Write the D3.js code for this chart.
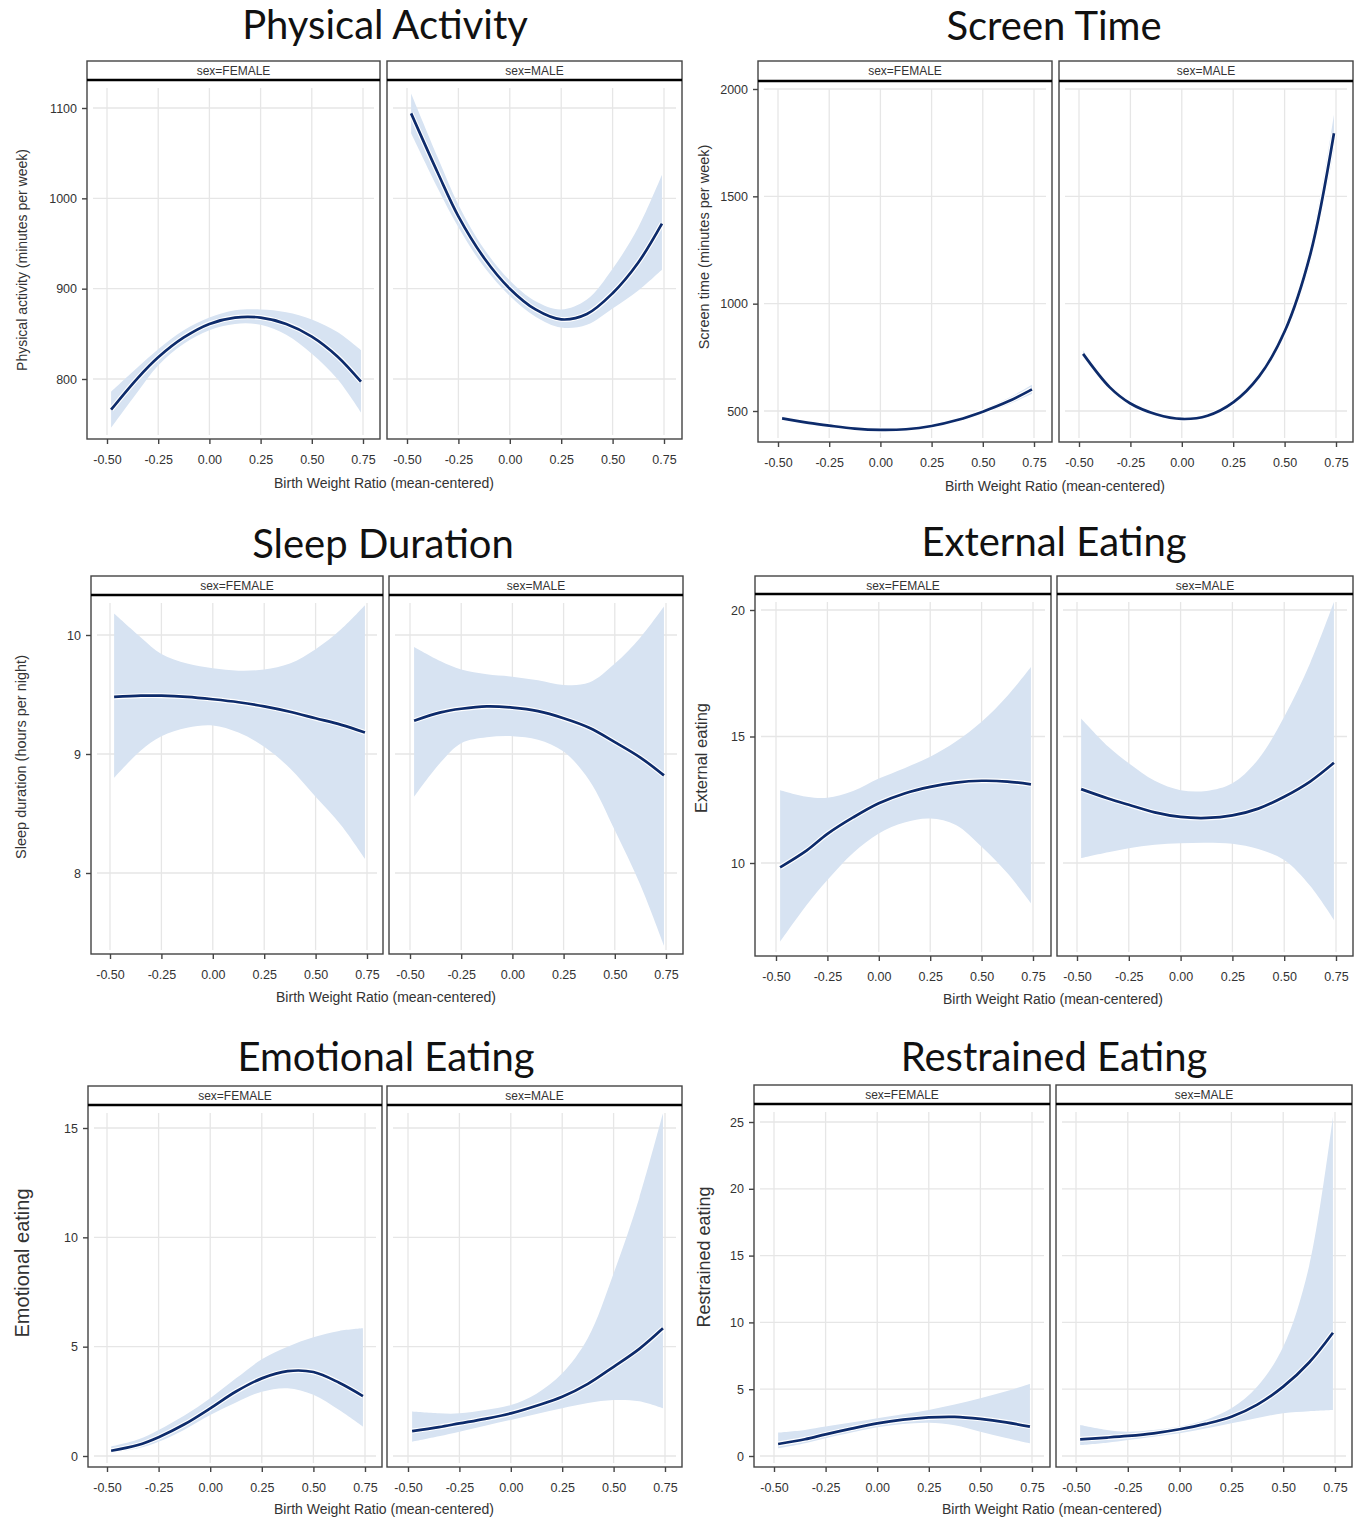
<!DOCTYPE html>
<html>
<head>
<meta charset="utf-8">
<script src="https://cdn.jsdelivr.net/npm/d3@7"></script>
<style>
  body { margin: 0; background: #fff; }
  svg { display: block; }
  .tick text { fill: #333; }
</style>
</head>
<body>
<svg width="1364" height="1519"></svg>
<script>
// x positions the curves were read at (birth weight ratio, mean-centered)
var xs = [-0.48, -0.35, -0.25, -0.125, 0, 0.125, 0.25, 0.375, 0.5, 0.625, 0.74];
var xTicks = [-0.5, -0.25, 0, 0.25, 0.5, 0.75];
var xTickLabels = ["-0.50", "-0.25", "0.00", "0.25", "0.50", "0.75"];
var sexes = ["FEMALE", "MALE"];

// Physical activity
var paTicks = [800, 900, 1000, 1100];
var paFemaleMean = [766, 801, 824, 846, 861, 868, 868, 861, 847, 825, 797];
var paFemaleLo = [746, 786, 815, 839, 854, 861, 860, 849, 828, 800, 763];
var paFemaleHi = [786, 813, 833, 854, 868, 876, 877, 874, 866, 852, 832];
var paMaleMean = [1094, 1028, 980, 934, 900, 877, 866, 872, 895, 929, 972];
var paMaleLo = [1072, 1011, 968, 924, 892, 869, 857, 860, 878, 898, 921];
var paMaleHi = [1116, 1045, 993, 944, 909, 886, 877, 888, 922, 968, 1026];

// Screen time
var stTicks = [500, 1000, 1500, 2000];
var stFemaleMean = [466, 445, 432, 418, 412, 415, 430, 458, 497, 545, 601];
var stFemaleLo = [458, 439, 427, 414, 408, 411, 425, 451, 487, 530, 580];
var stFemaleHi = [474, 451, 437, 422, 416, 419, 435, 465, 507, 560, 622];
var stMaleMean = [766, 610, 535, 485, 463, 478, 540, 660, 870, 1230, 1794];
var stMaleLo = [750, 600, 527, 478, 456, 470, 530, 646, 848, 1190, 1715];
var stMaleHi = [782, 620, 543, 492, 470, 486, 550, 674, 892, 1270, 1880];

// Sleep duration
var sdTicks = [8, 9, 10];
var sdFemaleMean = [9.48, 9.49, 9.49, 9.48, 9.46, 9.435, 9.40, 9.355, 9.30, 9.245, 9.18];
var sdFemaleLo = [8.80, 9.03, 9.15, 9.22, 9.24, 9.18, 9.06, 8.88, 8.64, 8.40, 8.12];
var sdFemaleHi = [10.18, 9.98, 9.84, 9.76, 9.72, 9.70, 9.71, 9.76, 9.88, 10.05, 10.25];
var sdMaleMean = [9.28, 9.35, 9.38, 9.40, 9.39, 9.36, 9.30, 9.22, 9.10, 8.97, 8.82];
var sdMaleLo = [8.64, 8.93, 9.09, 9.14, 9.15, 9.12, 9.02, 8.78, 8.36, 7.90, 7.39];
var sdMaleHi = [9.90, 9.78, 9.71, 9.67, 9.65, 9.62, 9.58, 9.60, 9.76, 9.98, 10.24];

// External eating
var eeTicks = [10, 15, 20];
var eeFemaleMean = [9.83, 10.50, 11.15, 11.80, 12.36, 12.75, 13.01, 13.18, 13.25, 13.22, 13.11];
var eeFemaleLo = [6.89, 8.35, 9.33, 10.40, 11.17, 11.60, 11.76, 11.50, 10.64, 9.60, 8.41];
var eeFemaleHi = [12.88, 12.62, 12.58, 12.85, 13.34, 13.75, 14.20, 14.80, 15.58, 16.60, 17.75];
var eeMaleMean = [12.92, 12.55, 12.30, 12.00, 11.82, 11.78, 11.88, 12.15, 12.62, 13.22, 13.96];
var eeMaleLo = [10.19, 10.42, 10.58, 10.72, 10.78, 10.80, 10.76, 10.55, 10.12, 9.10, 7.75];
var eeMaleHi = [15.71, 14.60, 13.94, 13.25, 12.88, 12.85, 13.15, 14.10, 15.78, 17.90, 20.32];

// Emotional eating
var emTicks = [0, 5, 10, 15];
var emFemaleMean = [0.24, 0.50, 0.86, 1.45, 2.18, 2.95, 3.55, 3.88, 3.84, 3.35, 2.74];
var emFemaleLo = [0.15, 0.35, 0.65, 1.20, 1.87, 2.45, 2.94, 3.10, 2.80, 2.10, 1.34];
var emFemaleHi = [0.43, 0.75, 1.19, 1.85, 2.64, 3.55, 4.42, 5.00, 5.43, 5.72, 5.84];
var emMaleMean = [1.14, 1.32, 1.49, 1.70, 1.95, 2.30, 2.71, 3.30, 4.08, 4.90, 5.84];
var emMaleLo = [0.65, 0.90, 1.11, 1.38, 1.65, 1.92, 2.18, 2.42, 2.56, 2.50, 2.18];
var emMaleHi = [2.03, 1.95, 1.95, 2.10, 2.33, 2.85, 3.78, 5.40, 8.35, 11.80, 15.67];

// Restrained eating
var reTicks = [0, 5, 10, 15, 20, 25];
var reFemaleMean = [0.90, 1.25, 1.62, 2.05, 2.44, 2.72, 2.89, 2.93, 2.78, 2.52, 2.20];
var reFemaleLo = [0.57, 0.95, 1.32, 1.75, 2.15, 2.40, 2.49, 2.30, 1.82, 1.35, 0.95];
var reFemaleHi = [1.75, 1.95, 2.20, 2.50, 2.82, 3.12, 3.44, 3.85, 4.32, 4.85, 5.39];
var reMaleMean = [1.25, 1.38, 1.50, 1.70, 2.00, 2.40, 2.94, 3.85, 5.19, 7.00, 9.23];
var reMaleLo = [0.82, 1.00, 1.20, 1.45, 1.70, 2.05, 2.45, 2.85, 3.20, 3.35, 3.44];
var reMaleHi = [2.32, 1.95, 1.82, 1.95, 2.20, 2.70, 3.57, 5.20, 8.18, 14.20, 25.40];

var svg = d3.select("svg");

// layout of each of the six charts (pixels)
var charts = [
  { title: "Physical Activity", tx: 385, ty: 39, ylabel: "Physical activity (minutes per week)", ylabSize: 14, ylx: 22, yly: 260,
    ticks: paTicks, y0: [800, 379], y1: [1100, 108], top: 61, plotTop: 80, bottom: 439,
    boxes: [[87, 380], [387, 682]], xpx: [[107, 363], [407, 664]], xlx: 384, xly: 488,
    data: [[paFemaleMean, paFemaleLo, paFemaleHi], [paMaleMean, paMaleLo, paMaleHi]] },
  { title: "Screen Time", tx: 1054, ty: 40, ylabel: "Screen time (minutes per week)", ylabSize: 14.5, ylx: 704, yly: 247,
    ticks: stTicks, y0: [500, 411], y1: [2000, 89], top: 61, plotTop: 81, bottom: 442,
    boxes: [[758, 1052], [1059, 1353]], xpx: [[778, 1034], [1079, 1336]], xlx: 1055, xly: 491,
    data: [[stFemaleMean, stFemaleLo, stFemaleHi], [stMaleMean, stMaleLo, stMaleHi]] },
  { title: "Sleep Duration", tx: 383, ty: 558, ylabel: "Sleep duration (hours per night)", ylabSize: 14.5, ylx: 21, yly: 757,
    ticks: sdTicks, y0: [8, 873], y1: [10, 635], top: 576, plotTop: 595, bottom: 954,
    boxes: [[91, 383], [389, 683]], xpx: [[110, 367], [410, 666]], xlx: 386, xly: 1002,
    data: [[sdFemaleMean, sdFemaleLo, sdFemaleHi], [sdMaleMean, sdMaleLo, sdMaleHi]] },
  { title: "External Eating", tx: 1054, ty: 556, ylabel: "External eating", ylabSize: 16.5, ylx: 701, yly: 758,
    ticks: eeTicks, y0: [10, 863], y1: [20, 610], top: 576, plotTop: 594, bottom: 956,
    boxes: [[755, 1051], [1057, 1353]], xpx: [[776, 1033], [1077, 1336]], xlx: 1053, xly: 1004,
    data: [[eeFemaleMean, eeFemaleLo, eeFemaleHi], [eeMaleMean, eeMaleLo, eeMaleHi]] },
  { title: "Emotional Eating", tx: 386, ty: 1071, ylabel: "Emotional eating", ylabSize: 20, ylx: 22, yly: 1263,
    ticks: emTicks, y0: [0, 1456], y1: [15, 1128], top: 1086, plotTop: 1105, bottom: 1467,
    boxes: [[88, 382], [387, 682]], xpx: [[107, 365], [408, 665]], xlx: 384, xly: 1514,
    data: [[emFemaleMean, emFemaleLo, emFemaleHi], [emMaleMean, emMaleLo, emMaleHi]] },
  { title: "Restrained Eating", tx: 1054, ty: 1071, ylabel: "Restrained eating", ylabSize: 18, ylx: 704, yly: 1257,
    ticks: reTicks, y0: [0, 1456], y1: [25, 1122], top: 1085, plotTop: 1104, bottom: 1467,
    boxes: [[754, 1050], [1056, 1352]], xpx: [[774, 1032], [1076, 1335]], xlx: 1052, xly: 1514,
    data: [[reFemaleMean, reFemaleLo, reFemaleHi], [reMaleMean, reMaleLo, reMaleHi]] }
];

var font = "'Liberation Sans', Arial, sans-serif";
var smooth = d3.curveCatmullRom.alpha(0.5);

charts.forEach(function (c, ci) {
  var g = svg.append("g");

  // title
  g.append("text")
    .attr("x", c.tx).attr("y", c.ty)
    .attr("text-anchor", "middle")
    .attr("font-family", "Lato, 'Open Sans', sans-serif")
    .attr("font-size", 40)
    .attr("fill", "#111")
    .text(c.title);

  var y = d3.scaleLinear().domain([c.y0[0], c.y1[0]]).range([c.y0[1], c.y1[1]]);

  c.boxes.forEach(function (b, pi) {
    var x = d3.scaleLinear().domain([-0.5, 0.75]).range(c.xpx[pi]);
    var p = g.append("g");
    var clipId = "clip" + ci + "_" + pi;

    p.append("clipPath").attr("id", clipId)
      .append("rect")
      .attr("x", b[0]).attr("y", c.plotTop)
      .attr("width", b[1] - b[0]).attr("height", c.bottom - c.plotTop);

    // grid
    p.selectAll(".vg").data(xTicks).enter().append("line")
      .attr("x1", d => x(d)).attr("x2", d => x(d))
      .attr("y1", c.plotTop + 8).attr("y2", c.bottom - 4)
      .attr("stroke", "#e6e6e6").attr("stroke-width", 1.3);
    p.selectAll(".hg").data(c.ticks).enter().append("line")
      .attr("x1", b[0] + 6).attr("x2", b[1] - 6)
      .attr("y1", d => y(d)).attr("y2", d => y(d))
      .attr("stroke", "#e6e6e6").attr("stroke-width", 1.3);

    var pts = xs.map(function (v, i) {
      return { x: v, m: c.data[pi][0][i], lo: c.data[pi][1][i], hi: c.data[pi][2][i] };
    });

    var area = d3.area()
      .x(d => x(d.x)).y0(d => y(d.lo)).y1(d => y(d.hi))
      .curve(smooth);
    var line = d3.line()
      .x(d => x(d.x)).y(d => y(d.m))
      .curve(smooth);

    var plot = p.append("g").attr("clip-path", "url(#" + clipId + ")");
    plot.append("path").datum(pts).attr("d", area)
      .attr("fill", "#d7e3f2");
    plot.append("path").datum(pts).attr("d", line)
      .attr("fill", "none").attr("stroke", "#fff").attr("stroke-width", 5);
    plot.append("path").datum(pts).attr("d", line)
      .attr("fill", "none").attr("stroke", "#0d2b6b").attr("stroke-width", 2.7);

    // frame and strip
    p.append("rect")
      .attr("x", b[0]).attr("y", c.top)
      .attr("width", b[1] - b[0]).attr("height", c.bottom - c.top)
      .attr("fill", "none").attr("stroke", "#444").attr("stroke-width", 1.4);
    p.append("line")
      .attr("x1", b[0]).attr("x2", b[1])
      .attr("y1", c.plotTop).attr("y2", c.plotTop)
      .attr("stroke", "#000").attr("stroke-width", 2.6);
    p.append("text")
      .attr("x", (b[0] + b[1]) / 2).attr("y", c.top + 13.5)
      .attr("text-anchor", "middle")
      .attr("font-family", font).attr("font-size", 12)
      .attr("fill", "#333")
      .text("sex=" + sexes[pi]);

    // x axis
    var xa = p.append("g")
      .attr("transform", "translate(0," + c.bottom + ")")
      .call(d3.axisBottom(x).tickValues(xTicks)
        .tickFormat((d, i) => xTickLabels[i]).tickSize(5).tickPadding(11));
    xa.select(".domain").remove();
    xa.selectAll("line").attr("stroke", "#444").attr("stroke-width", 1.4);
    xa.selectAll("text").attr("font-family", font).attr("font-size", 12.5);

    // y axis on the left panel only
    if (pi === 0) {
      var ya = p.append("g")
        .attr("transform", "translate(" + b[0] + ",0)")
        .call(d3.axisLeft(y).tickValues(c.ticks).tickFormat(d3.format("d"))
          .tickSize(5).tickPadding(5));
      ya.select(".domain").remove();
      ya.selectAll("line").attr("stroke", "#444").attr("stroke-width", 1.4);
      ya.selectAll("text").attr("font-family", font).attr("font-size", 12.5);
    }
  });

  // axis labels
  g.append("text")
    .attr("x", c.xlx).attr("y", c.xly)
    .attr("text-anchor", "middle")
    .attr("font-family", font).attr("font-size", 14)
    .attr("fill", "#333")
    .text("Birth Weight Ratio (mean-centered)");
  g.append("text")
    .attr("transform", "translate(" + c.ylx + "," + c.yly + ") rotate(-90)")
    .attr("text-anchor", "middle")
    .attr("dominant-baseline", "central")
    .attr("font-family", font).attr("font-size", c.ylabSize)
    .attr("fill", "#333")
    .text(c.ylabel);
});
</script>
</body>
</html>
